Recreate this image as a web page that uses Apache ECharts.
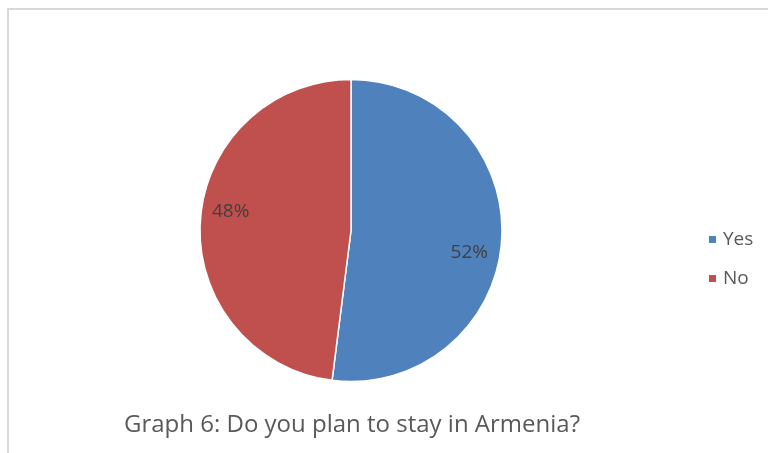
<!DOCTYPE html>
<html>
<head>
<meta charset="utf-8">
<script src="https://cdn.jsdelivr.net/npm/echarts@6/dist/echarts.min.js"></script>
<style>
  html, body { margin: 0; padding: 0; background: #ffffff; }
  #chart { width: 768px; height: 453px; }
</style>
</head>
<body>
<div id="chart"></div>
<script>
// Survey answers: share of respondents planning to stay
const categories = ['Yes', 'No'];
const shares = [52, 48];
const sliceColors = ['#4F81BD', '#C0504D'];
const titleText = 'Graph 6: Do you plan to stay in Armenia?';

const pieData = categories.map((name, i) => ({
  name: name,
  value: shares[i],
  itemStyle: { color: sliceColors[i] }
}));

const chart = echarts.init(document.getElementById('chart'), null, { renderer: 'canvas' });

chart.setOption({
  backgroundColor: '#ffffff',
  animation: false,
  title: {
    text: titleText,
    left: 352,
    textAlign: 'center',
    top: 413,
    padding: 0,
    textStyle: {
      fontFamily: 'Open Sans',
      fontSize: 24,
      fontWeight: 'normal',
      color: '#595959'
    }
  },
  legend: {
    orient: 'vertical',
    left: 707,
    top: 230,
    padding: 0,
    icon: 'rect',
    itemWidth: 9,
    itemHeight: 9,
    itemGap: 20,
    data: categories,
    textStyle: {
      fontFamily: 'Open Sans',
      fontSize: 19,
      color: '#595959',
      padding: [0, 0, 0, 1]
    }
  },
  graphic: [{
    type: 'rect',
    silent: true,
    shape: { x: 8, y: 9, width: 800, height: 500 },
    style: { fill: 'none', stroke: '#d9d9d9', lineWidth: 2 }
  }],
  series: [
    {
      type: 'pie',
      center: [351, 230.5],
      radius: [0, 151],
      startAngle: 90,
      clockwise: true,
      avoidLabelOverlap: false,
      silent: true,
      label: { show: false },
      labelLine: { show: false },
      itemStyle: { borderColor: '#ffffff', borderWidth: 1.5 },
      data: pieData
    },
    {
      // label ring: same shares, placed further out and slightly rotated
      type: 'pie',
      center: [350, 232],
      radius: [0, 236],
      startAngle: 84,
      clockwise: true,
      silent: true,
      avoidLabelOverlap: false,
      itemStyle: { color: 'rgba(0,0,0,0)' },
      label: {
        show: true,
        position: 'inside',
        formatter: p => p.value + '%',
        fontFamily: 'Open Sans',
        fontSize: 19,
        color: '#404040'
      },
      labelLine: { show: false },
      data: categories.map((name, i) => ({ name: name, value: shares[i] }))
    }
  ]
});
</script>
</body>
</html>
